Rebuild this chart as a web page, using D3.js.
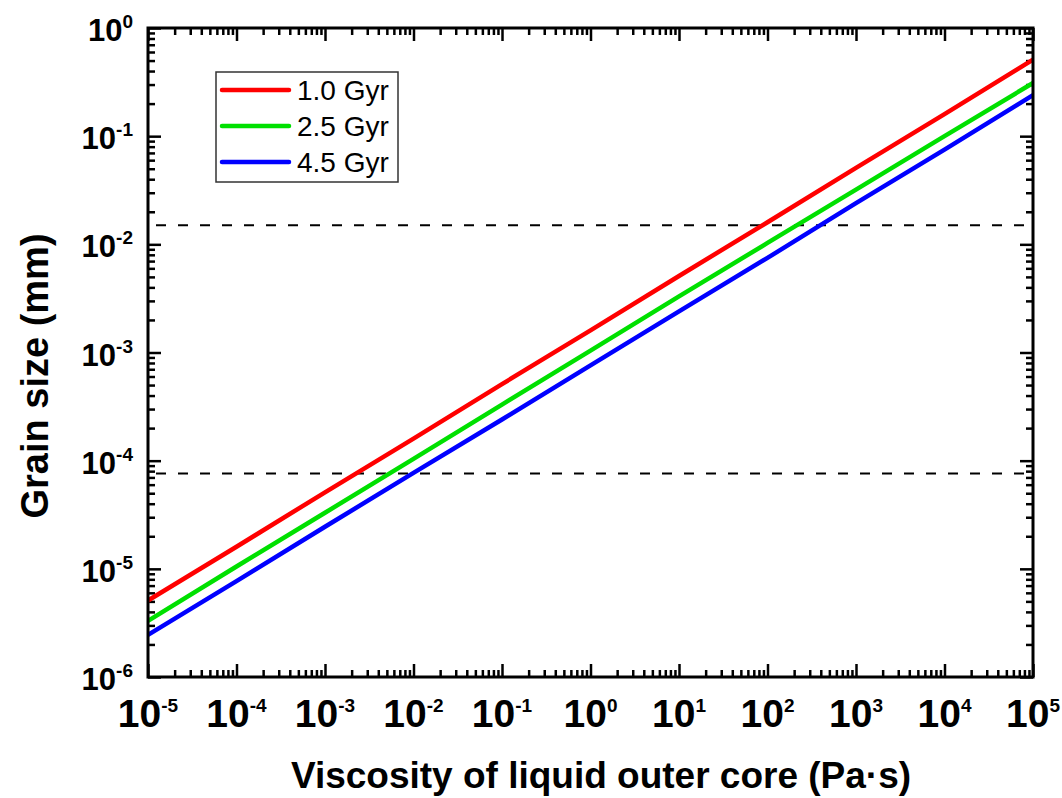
<!DOCTYPE html>
<html>
<head>
<meta charset="utf-8">
<script src="https://cdn.jsdelivr.net/npm/d3@7"></script>
<style>
  body { margin: 0; background: #fff; }
  svg text { font-family: Arial, "Liberation Sans", sans-serif; }
</style>
</head>
<body>
<div id="chart"></div>
<script>
// viscosity (Pa s), one point per decade
var viscosity = [1e-5, 1e-4, 1e-3, 1e-2, 1e-1, 1e0, 1e1, 1e2, 1e3, 1e4, 1e5];
// grain size (mm)
var grain1 = [5.1e-6, 1.6e-5, 5.1e-5, 1.6e-4, 5.1e-4, 1.6e-3, 5.1e-3, 1.6e-2, 5.1e-2, 0.16, 0.51];
var grain25 = [3.3e-6, 1.05e-5, 3.3e-5, 1.04e-4, 3.3e-4, 1.04e-3, 3.3e-3, 1.03e-2, 3.2e-2, 0.10, 0.31];
var grain45 = [2.45e-6, 7.7e-6, 2.45e-5, 7.7e-5, 2.4e-4, 7.6e-4, 2.4e-3, 7.5e-3, 2.4e-2, 0.075, 0.24];
var seriesNames = ["1.0 Gyr", "2.5 Gyr", "4.5 Gyr"];
var seriesColors = ["#ff0000", "#00e000", "#0000ff"];
// horizontal dashed reference levels (mm)
var refLevels = [0.015, 7.6e-5];
var xExps = [-5, -4, -3, -2, -1, 0, 1, 2, 3, 4, 5];
var yExps = [0, -1, -2, -3, -4, -5, -6];

var svgWidth = 1062;
var svgHeight = 798;
var margin = { top: 28, right: 29, bottom: 121, left: 148 };
var chartWidth = svgWidth - margin.left - margin.right;
var chartHeight = svgHeight - margin.top - margin.bottom;

var svg = d3.select("#chart").append("svg")
  .attr("width", svgWidth)
  .attr("height", svgHeight);

var chartGroup = svg.append("g")
  .attr("transform", `translate(${margin.left}, ${margin.top})`);

var x = d3.scaleLog().domain([1e-5, 1e5]).range([0, chartWidth]);
var y = d3.scaleLog().domain([1e-6, 1]).range([chartHeight, 0]);

// minor tick values 2..9 in each decade
function minorTicks(lo, hi) {
  var out = [];
  for (var e = lo; e < hi; e++) {
    for (var m = 2; m <= 9; m++) out.push(m * Math.pow(10, e));
  }
  return out;
}
var xMajor = xExps.map(e => Math.pow(10, e));
var yMajor = yExps.map(e => Math.pow(10, e));
var xMinor = minorTicks(-5, 5);
var yMinor = minorTicks(-6, 0);

// axes, ticks pointing inward on all four sides
function drawAxis(axisFn, scale, vals, size, transform) {
  var g = chartGroup.append("g")
    .attr("transform", transform)
    .call(axisFn(scale).tickValues(vals).tickSize(-size).tickFormat(""));
  g.select(".domain").remove();
  g.selectAll(".tick line").attr("stroke", "#000").attr("stroke-width", 2.5);
}
drawAxis(d3.axisBottom, x, xMajor, 13, `translate(0, ${chartHeight})`);
drawAxis(d3.axisBottom, x, xMinor, 7, `translate(0, ${chartHeight})`);
drawAxis(d3.axisTop, x, xMajor, 13, "translate(0, 0)");
drawAxis(d3.axisTop, x, xMinor, 7, "translate(0, 0)");
drawAxis(d3.axisLeft, y, yMajor, 13, "translate(0, 0)");
drawAxis(d3.axisLeft, y, yMinor, 7, "translate(0, 0)");
drawAxis(d3.axisRight, y, yMajor, 13, `translate(${chartWidth}, 0)`);
drawAxis(d3.axisRight, y, yMinor, 7, `translate(${chartWidth}, 0)`);

// dashed reference lines
chartGroup.selectAll(".ref").data(refLevels).enter().append("line")
  .attr("class", "ref")
  .attr("x1", 8).attr("x2", chartWidth - 8)
  .attr("y1", d => y(d)).attr("y2", d => y(d))
  .attr("stroke", "#000").attr("stroke-width", 2)
  .attr("stroke-dasharray", "10,12");

// curves
var allSeries = [grain1, grain25, grain45];
var line = d3.line()
  .x((d, i) => x(viscosity[i]))
  .y(d => y(d));
chartGroup.selectAll(".curve").data(allSeries).enter().append("path")
  .attr("class", "curve")
  .attr("d", d => line(d))
  .attr("fill", "none")
  .attr("stroke", (d, i) => seriesColors[i])
  .attr("stroke-width", 4.5);

// frame
chartGroup.append("rect")
  .attr("width", chartWidth).attr("height", chartHeight)
  .attr("fill", "none").attr("stroke", "#000").attr("stroke-width", 3);

// tick labels 10^n
function powLabel(sel, e, supSize, rise) {
  sel.append("tspan").text("10");
  sel.append("tspan").attr("dy", -rise).attr("font-size", supSize).text(e);
}
xExps.forEach(function(e) {
  var t = chartGroup.append("text")
    .attr("x", x(Math.pow(10, e)))
    .attr("y", chartHeight + 50)
    .attr("text-anchor", "middle")
    .attr("font-size", 39).attr("font-weight", "bold");
  powLabel(t, e, 19, 15);
});
yExps.forEach(function(e) {
  var t = chartGroup.append("text")
    .attr("x", -15)
    .attr("y", y(Math.pow(10, e)) + 13)
    .attr("text-anchor", "end")
    .attr("font-size", 31).attr("font-weight", "bold");
  powLabel(t, e, 19, 13);
});

// axis titles
svg.append("text")
  .attr("x", 601)
  .attr("y", 788)
  .attr("text-anchor", "middle")
  .attr("font-size", 37).attr("font-weight", "bold")
  .text("Viscosity of liquid outer core (Pa\u00b7s)");

svg.append("text")
  .attr("transform", "translate(48, 376) rotate(-90)")
  .attr("text-anchor", "middle")
  .attr("font-size", 38).attr("font-weight", "bold")
  .text("Grain size (mm)");

// legend
var legend = chartGroup.append("g").attr("transform", "translate(68, 44)");
legend.append("rect")
  .attr("width", 182).attr("height", 110)
  .attr("fill", "#fff").attr("stroke", "#333").attr("stroke-width", 1.5);
var legendItem = legend.selectAll(".lineLegend").data(seriesNames)
  .enter().append("g")
  .attr("class", "lineLegend")
  .attr("transform", (d, i) => `translate(6, ${18 + i * 36})`);
legendItem.append("line")
  .attr("x1", 0).attr("x2", 67)
  .attr("stroke", (d, i) => seriesColors[i])
  .attr("stroke-width", 4.5).attr("stroke-linecap", "round");
legendItem.append("text")
  .attr("x", 75).attr("y", 10)
  .attr("font-size", 28)
  .text(d => d);
</script>
</body>
</html>
